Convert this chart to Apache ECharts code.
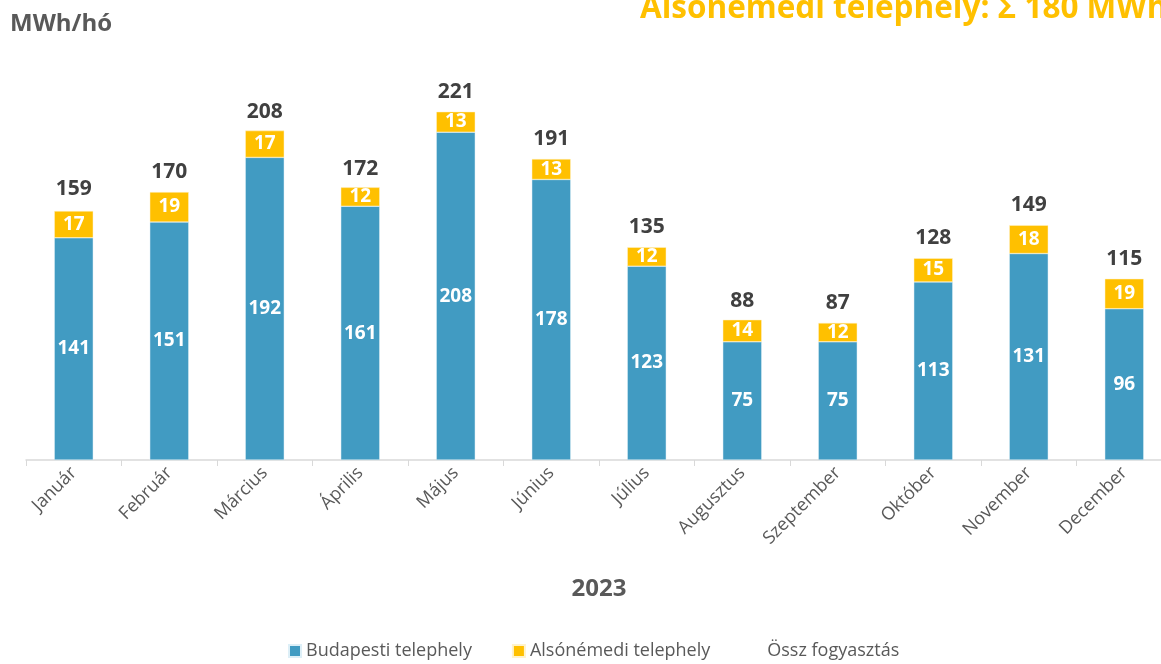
<!DOCTYPE html>
<html>
<head>
<meta charset="utf-8">
<script src="https://cdn.jsdelivr.net/npm/echarts@6/dist/echarts.min.js"></script>
<style>
  html, body { margin: 0; padding: 0; background: #fff; }
  #chart { width: 1161px; height: 664px; }
</style>
</head>
<body>
<div id="chart"></div>
<script>
var months = ['Január', 'Február', 'Március', 'Április', 'Május', 'Június',
  'Július', 'Augusztus', 'Szeptember', 'Október', 'November', 'December'];
var budapest = [141, 151, 192, 161, 208, 178, 123, 75, 75, 113, 131, 96];
var alsonemedi = [17, 19, 17, 12, 13, 13, 12, 14, 12, 15, 18, 19];
var totals = [159, 170, 208, 172, 221, 191, 135, 88, 87, 128, 149, 115];

var FONT = '"Open Sans", "Noto Sans", sans-serif';

var chart = echarts.init(document.getElementById('chart'));
chart.setOption({
  animation: false,
  textStyle: { fontFamily: FONT },
  title: [
    {
      text: 'Alsónémedi telephely: Σ 180 MWh',
      left: 635, top: -12,
      textStyle: { color: '#FFC000', fontSize: 31.5, fontWeight: 'bold', fontFamily: FONT }
    },
    {
      text: 'MWh/hó',
      left: 5, top: 7,
      textStyle: { color: '#595959', fontSize: 24, fontWeight: 'bold', fontFamily: FONT }
    }
  ],
  legend: {
    bottom: -1,
    left: 283,
    itemWidth: 12,
    itemHeight: 12,
    itemGap: 40,
    textStyle: { color: '#595959', fontSize: 18, fontFamily: FONT },
    data: [
      { name: 'Budapesti telephely', icon: 'rect' },
      { name: 'Alsónémedi telephely', icon: 'rect' },
      { name: 'Össz fogyasztás', icon: 'rect', itemStyle: { color: 'transparent' } }
    ]
  },
  grid: { left: 26, width: 1146, top: 66, bottom: 204, outerBoundsMode: 'none', containLabel: false },
  xAxis: {
    type: 'category',
    data: months,
    name: '2023',
    nameLocation: 'middle',
    nameGap: 117,
    nameTextStyle: { color: '#595959', fontSize: 24, fontWeight: 'bold', fontFamily: FONT },
    axisLine: { lineStyle: { color: '#D9D9D9', width: 1.5 } },
    axisTick: { show: true, length: 6, lineStyle: { color: '#D9D9D9' } },
    axisLabel: { rotate: 45, color: '#595959', fontSize: 18, margin: 10, fontFamily: FONT }
  },
  yAxis: {
    type: 'value',
    min: 0, max: 250,
    show: false,
    splitLine: { show: false }
  },
  series: [
    {
      name: 'Budapesti telephely',
      type: 'bar',
      stack: 'total',
      barWidth: 39,
      data: budapest,
      itemStyle: { color: '#419BC2', borderColor: '#DDEFF7', borderWidth: 0.5 },
      label: { show: true, position: 'inside', color: '#fff', fontSize: 19, fontWeight: 'bold', fontFamily: FONT }
    },
    {
      name: 'Alsónémedi telephely',
      type: 'bar',
      stack: 'total',
      data: alsonemedi,
      itemStyle: { color: '#FFC000', borderColor: '#FFF3CC', borderWidth: 0.5 },
      label: { show: true, position: 'inside', color: '#fff', fontSize: 19, fontWeight: 'bold', fontFamily: FONT }
    },
    {
      name: 'Össz fogyasztás',
      type: 'line',
      data: totals,
      symbol: 'circle',
      symbolSize: 1,
      itemStyle: { color: 'transparent' },
      lineStyle: { width: 0, opacity: 0 },
      label: { show: true, position: 'top', distance: 9, color: '#404040', fontSize: 21, fontWeight: 'bold', fontFamily: FONT }
    }
  ]
});
</script>
</body>
</html>
